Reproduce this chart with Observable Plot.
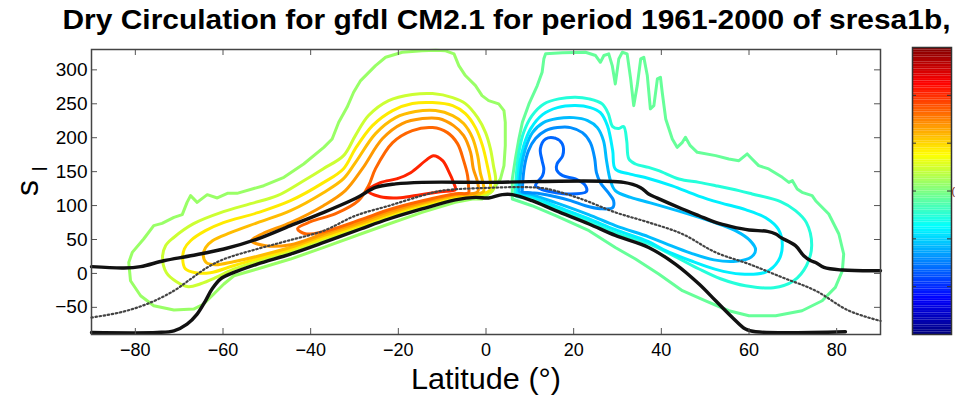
<!DOCTYPE html>
<html><head><meta charset="utf-8">
<script src="https://cdn.jsdelivr.net/npm/d3@7"></script>
<script src="https://cdn.jsdelivr.net/npm/@observablehq/plot@0.6"></script>
<style>
body{margin:0;background:#fff;}
#wrap{position:relative;width:955px;height:396px;overflow:hidden;}
#wrap svg{position:absolute;top:0;}
</style></head><body><div id="wrap"></div>
<script>
// ---------- text ----------
const titleText = "Dry Circulation for gfdl CM2.1 for period 1961-2000 of sresa1b,";
const xLabel = "Latitude (°)";
const xTicks = [-80, -60, -40, -20, 0, 20, 40, 60, 80];
const yTicks = [-50, 0, 50, 100, 150, 200, 250, 300];
const cbTicks = [-2/3, -1/3, 0, 1/3, 2/3];

// ---------- reference lines [lat, s] ----------
const upperBlack = [[-90,10],[-82.6,8],[-78.8,10],[-73.5,18.7],[-67.4,26],[-59.8,36],[-52.2,50.7],[-44.6,70.4],[-37,90],[-30.9,107],[-28.6,114.6],[-25.2,126.8],[-20.6,131.9],[-14.6,134.2],[0,134.2],[31.4,134.2],[35.2,126.8],[37.1,117],[39.1,111],[44.8,95],[48.6,85],[52.4,75.2],[56,69],[60,64],[64.2,62],[66.1,58.1],[67.2,53.1],[70.6,40.9],[72.5,26],[74,19],[75.2,16.2],[77.1,8.8],[81.3,5],[90,4]];
const lowerBlack = [[-90,-87],[-75,-87],[-71.2,-84.5],[-68.2,-74.6],[-65.9,-59.9],[-64,-40.3],[-62.5,-23],[-60.6,-8.3],[-57.5,1.5],[-52.2,13.8],[-44.6,28.6],[-37,45.7],[-28.6,65.5],[-22.2,80.2],[-14.6,95],[-7,108.3],[-2.4,112.1],[0.6,111.2],[3.7,116.1],[6,116.1],[10.5,107.2],[15.9,92.5],[23.5,72.9],[29.5,56],[37.1,38.3],[43.2,13.8],[48.6,-15.6],[52.4,-40.3],[56.2,-64.9],[59.2,-82],[61.5,-86],[82,-86]];
const dottedLine = [[-90,-65],[-82.6,-56.1],[-76.5,-42.8],[-71.2,-25.5],[-67.4,-8.3],[-63.6,8.8],[-59.8,21],[-52.2,36],[-44.6,49.2],[-37,63],[-29.8,85],[-22,100],[-14.6,114.6],[-10,122],[0,126],[10,127],[14,124.5],[21.6,110],[29.5,90],[37.1,75.2],[44.8,58.1],[52.4,31],[60,13.8],[67.6,-5.9],[75.2,-25.5],[82.8,-55],[90,-70]];

// ---------- positive (left) contours [lat, s] ----------
const pos1 = [[-0.9,109.7],[-3.1,109.7],[-7.0,104.7],[-14.6,90],[-22.2,72.9],[-28.6,58.1],[-37.0,38.3],[-44.6,21.2],[-52.2,6.5],[-57.5,-3.4],[-59.8,-15.6],[-62.1,-30.4],[-64.4,-45.1],[-66.7,-52.5],[-71.2,-54],[-75.8,-47.6],[-78.8,-32.9],[-81.1,-10.8],[-81.5,16.2],[-80.7,31],[-78.1,50.7],[-75.8,70.4],[-73.9,73.8],[-71.2,82.6],[-69.3,86.6],[-68.2,104.7],[-67.4,114.6],[-65.9,104.7],[-63.6,116.1],[-61.3,111.2],[-59.0,118],[-56.8,118],[-50.7,129.3],[-46.1,141.6],[-41.6,161.3],[-37.0,185.8],[-35.1,198.2],[-33.6,222.7],[-31.7,244.8],[-30.2,267],[-28.6,284.2],[-25.2,306.3],[-22.9,318.6],[-19.1,326],[-14.6,328],[-11.5,329],[-9.2,328],[-7.3,323.6],[-6.2,306.3],[-4.7,291.6],[-2.4,276.8],[-0.9,262.1],[0.6,254.7],[2.9,249.8],[4.1,240],[4.4,222.7],[4.4,188.3],[4.1,158.8],[3.3,139.2],[2.2,129.3],[1.0,119]];
const pos2 = [[-71.3,52.6],[-66.7,73.3],[-59.9,91.0],[-53.7,102.8],[-47.6,114.6],[-41.6,136.7],[-37.1,154.4],[-32.5,173.6],[-29.8,203.1],[-26.8,232.6],[-22.2,254.7],[-16.8,263.6],[-12.2,265.0],[-7.6,259.1],[-4.7,250.3],[-1.9,229.6],[-0.1,207.5],[1.0,183.9],[1.7,158.8],[2.2,139.7],[1.9,126.4],[1.0,119.0],[-3.5,113.1],[-7.0,110.9],[-14.5,98.4],[-22.2,83.6],[-28.6,68.9],[-37.1,49.7],[-44.6,32.7],[-52.1,18.0],[-57.6,6.2],[-61.7,-6.3],[-65.1,-15.2],[-67.9,-19.6],[-70.6,-12.2],[-72.9,1.0],[-73.8,23.1],[-73.1,40.8]];
const pos3 = [[-67.4,48.2],[-64.0,63.0],[-59.9,74.8],[-52.1,89.5],[-44.6,107.2],[-37.1,133.8],[-32.5,154.4],[-29.8,183.9],[-25.9,217.8],[-21.3,240.0],[-16.8,250.3],[-12.2,251.8],[-7.6,247.3],[-4.7,235.5],[-2.4,214.9],[-0.8,188.3],[0.3,158.8],[1.0,133.8],[0.8,122.0],[-3.5,114.6],[-7.0,113.1],[-14.5,100.6],[-22.2,85.8],[-28.6,71.1],[-37.1,52.6],[-44.6,35.7],[-52.1,21.7],[-57.6,11.4],[-62.9,1.0],[-66.3,1.0],[-68.6,6.9],[-69.2,21.7],[-68.8,36.4]];
const pos4 = [[-62.4,48.2],[-58.3,60.0],[-52.1,74.8],[-44.6,92.5],[-37.1,119.0],[-32.5,139.7],[-29.8,163.3],[-25.2,206.0],[-20.6,229.6],[-16.1,238.5],[-11.5,240.0],[-7.6,232.6],[-5.1,220.8],[-3.1,200.1],[-1.9,173.6],[-1.3,148.5],[-0.6,130.8],[-0.6,120.5],[-3.5,116.1],[-7.0,114.6],[-14.5,102.8],[-22.2,88.0],[-28.6,73.3],[-37.1,55.6],[-44.6,38.6],[-52.1,25.4],[-57.6,17.3],[-61.7,12.8],[-63.8,15.8],[-64.5,26.1],[-64.0,37.9]];
const pos5 = [[-51.0,58.5],[-44.6,74.8],[-37.1,99.8],[-32.1,122.0],[-28.2,154.4],[-23.6,198.7],[-19.1,220.8],[-14.5,228.2],[-10.8,228.2],[-7.4,217.8],[-5.1,203.1],[-3.5,178.0],[-2.9,154.4],[-1.9,133.8],[-1.9,120.5],[-7.0,116.1],[-14.5,105.0],[-22.2,91.0],[-28.6,76.2],[-37.1,58.5],[-44.6,42.3],[-50.3,40.8],[-53.5,48.2]];
const pos6 = [[-40.0,76.2],[-34.3,88.0],[-29.1,107.2],[-26.8,129.3],[-25.2,154.4],[-21.3,192.8],[-16.8,210.5],[-12.2,214.9],[-8.8,207.5],[-6.5,191.3],[-5.1,166.2],[-4.2,144.1],[-4.0,129.3],[-4.0,119.0],[-7.0,117.5],[-14.5,107.2],[-22.2,93.9],[-28.6,79.2],[-37.1,61.5],[-41.2,58.5],[-43.0,65.9]];
const pos7 = [[-24.1,133.8],[-20.2,139.7],[-17.2,148.5],[-13.8,166.2],[-12.0,173.6],[-9.9,166.2],[-8.6,151.5],[-7.4,133.8],[-7.0,123.4],[-10.4,120.5],[-14.9,116.1],[-19.5,111.6],[-24.1,113.1],[-27.0,122.0]];

// ---------- negative (right) contours [lat, s] ----------
const neg1 = [[6.0,109.7],[6.0,139.2],[6.7,168.7],[7.5,198.2],[8.3,222.7],[9.8,249.8],[11.7,276.8],[12.8,296.5],[13.2,316.2],[13.6,323.6],[17.4,325.1],[22.7,326.0],[25.0,321.1],[26.1,311.2],[26.9,321.1],[28.0,323.6],[28.8,306.3],[29.5,279.3],[30.3,316.2],[31.1,326.0],[32.2,323.6],[33.0,286.7],[33.7,247.3],[34.5,276.8],[35.3,316.2],[36.0,318.6],[36.8,291.6],[37.5,242.5],[38.3,247.3],[39.1,286.7],[39.8,289.1],[40.2,267.0],[41.0,227.7],[42.5,198.2],[43.6,185.8],[44.8,193.2],[45.5,200.6],[46.6,188.3],[48.2,178.5],[52.4,173.6],[55.4,168.7],[57.7,166.2],[59.6,176.1],[60.7,168.7],[62.2,158.8],[64.5,154.0],[67.6,141.6],[69.1,134.2],[69.9,136.7],[71.0,124.5],[72.1,119.5],[74.4,114.6],[75.2,107.2],[78.2,87.6],[80.5,58.1],[81.6,28.6],[81.3,4.0],[79.7,-20.6],[76.7,-40.3],[72.1,-55.0],[66.1,-62.4],[60.0,-62.4],[55.4,-55.0],[50.1,-40.3],[44.8,-25.5],[39.4,-0.9],[34.1,21.2],[29.5,38.3],[23.5,63.0],[15.9,85.1],[10.5,99.8]];
const neg2 = [[6.7,122.0],[7.0,151.5],[7.5,178.5],[8.6,208.0],[10.5,232.6],[13.2,249.8],[16.6,257.2],[20.4,259.6],[23.5,257.2],[26.5,249.8],[27.9,235.5],[28.9,216.4],[30.2,213.4],[31.4,216.4],[32.1,195.7],[32.6,168.7],[34.1,161.3],[37.1,156.3],[39.4,151.5],[44.0,139.2],[48.6,134.2],[52.4,129.3],[57.7,122.0],[60.7,117.1],[67.2,105.8],[70.6,92.5],[73.1,74.8],[74.3,40.9],[73.1,11.4],[70.2,-10.8],[65.6,-21.1],[59.2,-18.1],[53.5,-7.8],[48.5,6.9],[43.2,24.6],[37.1,43.8],[29.5,60.0],[23.4,77.0],[15.9,96.2],[10.5,110.2],[6.7,114.6]];
const neg3 = [[7.2,122.0],[7.6,158.8],[8.6,188.3],[10.2,213.4],[12.9,234.1],[16.3,244.4],[20.4,247.3],[23.8,244.4],[26.1,237.0],[27.7,217.8],[28.9,181.0],[29.5,154.0],[32.5,147],[37.1,140],[42.5,129],[48.5,114],[53.5,104],[59.2,94],[63.8,82],[66.7,65],[67.6,40.9],[66.7,18.7],[63.8,2],[58.1,-1],[52.4,6],[46.7,18.7],[41.0,33.5],[37.1,46.7],[29.5,64.5],[23.4,80.7],[15.9,99.1],[10.5,113.1],[7.2,117.5]];
const neg4 = [[7.6,124.9],[8.1,158.8],[9.0,183.9],[10.6,207.5],[13.1,222.3],[16.3,228.2],[20.0,229.6],[23.2,225.2],[25.4,214.9],[26.8,195.7],[27.5,166.2],[28.4,136.7],[29.5,122],[33,112],[37.5,104],[44.4,91],[51.2,77],[56.9,63],[60.3,48],[61.5,35],[60.5,24],[57,18],[52,20],[46.7,30],[41,44],[37.1,54],[29.5,70.4],[23.4,86.6],[15.9,104.3],[10.5,116.1],[7.6,120.5]];
const neg5 = [[8.3,124.9],[8.8,158.8],[9.7,181.0],[11.3,198.7],[13.6,210.5],[16.3,214.9],[19.3,214.9],[22.0,207.5],[23.8,192.8],[24.8,169.2],[25.2,148.5],[26.1,133.8],[27.9,119.0],[29.1,107.2],[28.9,96.9],[26.1,95.4],[22.7,99.8],[19.3,107.2],[15.9,113.1],[12.4,117.5],[10.2,119.0],[8.3,120.5]];
const neg6 = [[13.6,198.2],[15.9,199.1],[17.4,190.9],[17.5,173.6],[16.2,161.3],[16.1,152.9],[17.5,144.1],[20.4,139.2],[22.7,129.3],[22.9,120.5],[18.9,117.1],[15.9,119.0],[12.8,123.4],[11.3,129.3],[12.0,136.7],[12.9,144.1],[13.2,154.0],[12.8,166.2],[12.4,183.9]];

// contour levels (colour-bar units, -1..1)
const posLevels = [0.05, 0.15, 0.29, 0.38, 0.45, 0.55, 0.68];
const negLevels = [-0.05, -0.18, -0.28, -0.38, -0.47, -0.55];

// ---------- build ----------
const posSets = [pos1, pos2, pos3, pos4, pos5, pos6, pos7];
const negSets = [neg1, neg2, neg3, neg4, neg5, neg6];
const contours = [
  ...posSets.map((pts, i) => ({id: "p" + i, level: posLevels[i], pts, jagged: i === 0})),
  ...negSets.map((pts, i) => ({id: "n" + i, level: negLevels[i], pts, jagged: i === 0}))
];
const toRows = (pts, id, level) => pts.map(([lat, s]) => ({lat, s, id, level}));

const jet = t => {
  const c = v => Math.max(0, Math.min(1, v));
  const r = c(1.5 - Math.abs(4 * t - 3)), g = c(1.5 - Math.abs(4 * t - 2)), b = c(1.5 - Math.abs(4 * t - 1));
  return `rgb(${Math.round(r * 255)},${Math.round(g * 255)},${Math.round(b * 255)})`;
};
const colorOpts = {type: "linear", domain: [-1, 1], interpolate: jet};
const font = "Liberation Sans, Arial, Helvetica, sans-serif";

const contourMarks = contours.map(c => Plot.line(toRows(c.pts, c.id, c.level), {
  x: "lat", y: "s", stroke: "level", strokeWidth: 3,
  curve: c.jagged ? "linear-closed" : "catmull-rom-closed", strokeLinejoin: "round"
}));

const main = Plot.plot({
  width: 955, height: 396,
  marginLeft: 91, marginRight: 75, marginTop: 49, marginBottom: 62,
  x: {domain: [-90, 90]},
  y: {domain: [-90, 330]},
  color: colorOpts,
  style: {fontFamily: font, background: "transparent", color: "#000"},
  marks: [
    ...contourMarks,
    Plot.line(upperBlack, {x: d => d[0], y: d => d[1], stroke: "#111", strokeWidth: 3.4, curve: "catmull-rom"}),
    Plot.line(lowerBlack, {x: d => d[0], y: d => d[1], stroke: "#111", strokeWidth: 3.4, curve: "catmull-rom"}),
    Plot.line(dottedLine, {x: d => d[0], y: d => d[1], stroke: "#444", strokeWidth: 2.2, strokeDasharray: "1.5 2.6", curve: "catmull-rom"}),
    Plot.tickX(xTicks, {x: d => d, insetTop: 279, stroke: "#555"}),
    Plot.tickX(xTicks, {x: d => d, insetBottom: 279, stroke: "#555"}),
    Plot.tickY(yTicks, {y: d => d, insetLeft: 783, stroke: "#555"}),
    Plot.tickY(yTicks, {y: d => d, insetRight: 783, stroke: "#555"}),
    Plot.frame({stroke: "#444", strokeWidth: 1.5}),
    Plot.axisX(xTicks, {tickSize: 0, tickPadding: 9, fontSize: 18, label: null}),
    Plot.axisY(yTicks, {tickSize: 0, tickPadding: 4, fontSize: 19, label: null}),
    Plot.text([xLabel], {frameAnchor: "bottom", lineAnchor: "middle", dy: 45, fontSize: 29}),
    Plot.text(["s"], {frameAnchor: "left", rotate: -90, lineAnchor: "middle", dx: -64, dy: 4, fontSize: 32}),
    Plot.text(["l"], {frameAnchor: "left", rotate: -90, lineAnchor: "middle", dx: -51, dy: -21, fontSize: 20}),
    Plot.text([titleText], {frameAnchor: "top-left", textAnchor: "start", lineAnchor: "middle", dx: -29, dy: -29, fontSize: 28, fontWeight: "bold"})
  ]
});
main.style.left = "0px";

const cbSteps = d3.range(120).map(i => -1 + (i + 0.5) * (2 / 120));
const colorbar = Plot.plot({
  width: 50, height: 396,
  marginLeft: 7, marginRight: 4, marginTop: 47, marginBottom: 62,
  x: {domain: [0, 1], axis: null},
  y: {domain: [-1, 1], axis: null},
  color: colorOpts,
  style: {fontFamily: font, background: "transparent", overflow: "visible"},
  marks: [
    Plot.rect(cbSteps, {x1: 0, x2: 1, y1: d => d - 1 / 118, y2: d => d + 1 / 118, fill: d => d}),
    Plot.tickY(cbTicks, {y: d => d, insetRight: 35, stroke: "#333"}),
    Plot.tickY(cbTicks, {y: d => d, insetLeft: 35, stroke: "#333"}),
    Plot.frame({stroke: "#333", strokeWidth: 1.5}),
    Plot.text(["("], {frameAnchor: "right", textAnchor: "start", dx: 0, fontSize: 11, fill: "#7a1a08"})
  ]
});
colorbar.style.left = "905px";

const wrap = document.getElementById("wrap");
wrap.appendChild(main);
wrap.appendChild(colorbar);

// stretch texts to the widths they span in the reference
d3.select(main).selectAll("text").filter(function () { return this.textContent === titleText; })
  .attr("textLength", 888).attr("lengthAdjust", "spacingAndGlyphs");
d3.select(main).selectAll("text").filter(function () { return this.textContent === xLabel; })
  .attr("textLength", 150).attr("lengthAdjust", "spacingAndGlyphs");
</script></body></html>
